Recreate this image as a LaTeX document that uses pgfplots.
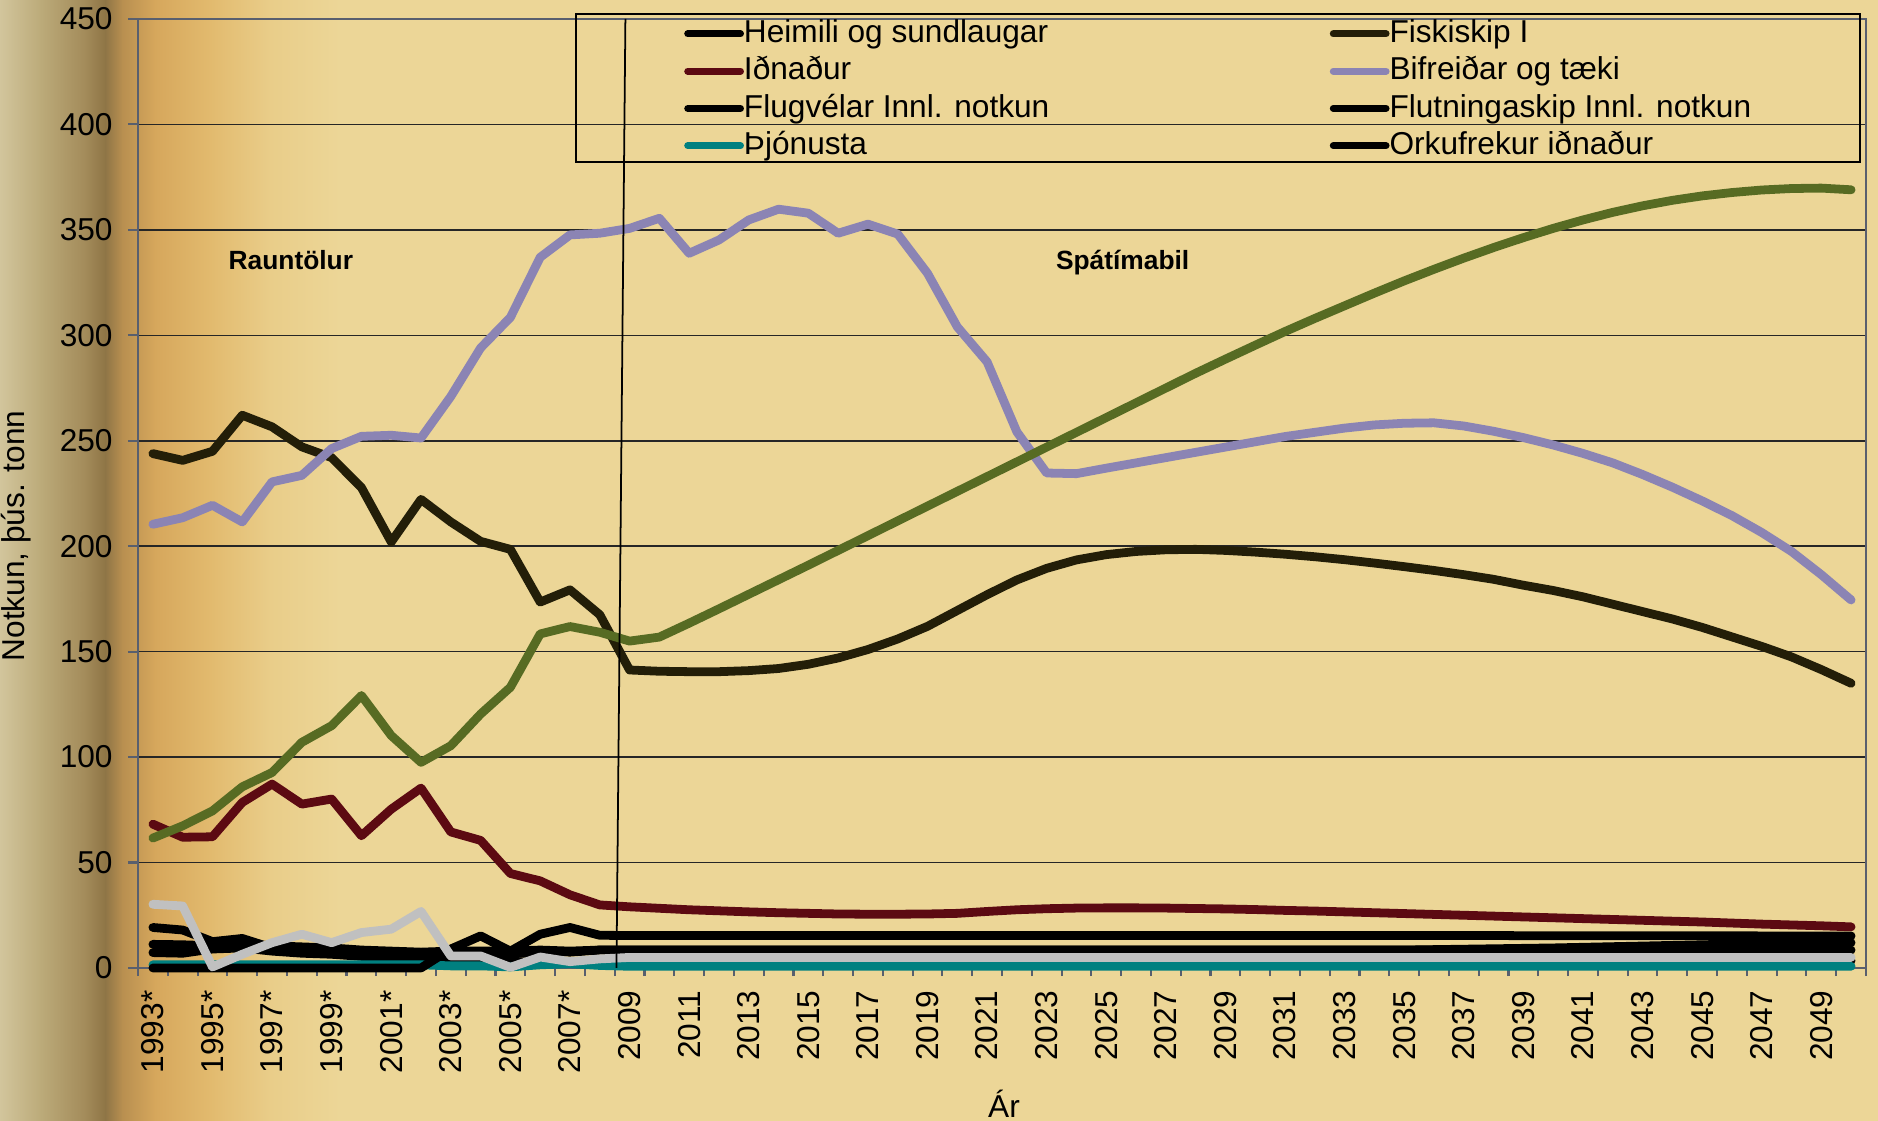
\documentclass[border=0pt]{standalone}
\usepackage{fontspec}
\setmainfont{Liberation Sans}
\usepackage{pgfplots}
\pgfplotsset{compat=1.18}
\usepackage{pgfplotstable}

\definecolor{fisk}{HTML}{231E08}
\definecolor{idn}{HTML}{5C0A12}
\definecolor{bif}{HTML}{8B84B4}
\definecolor{grn}{HTML}{576B23}
\definecolor{gry}{HTML}{C0C0C0}
\definecolor{tea}{HTML}{008080}
\definecolor{axcol}{HTML}{595F6E}
\definecolor{bgmain}{HTML}{ECD697}
\definecolor{bga}{HTML}{D2C59C}
\definecolor{bgb}{HTML}{BCAB7A}
\definecolor{bgc}{HTML}{A38B5A}
\definecolor{bgd}{HTML}{8E7546}
\definecolor{bge}{HTML}{B88F50}
\definecolor{bgf}{HTML}{D6A75C}
\definecolor{bgg}{HTML}{E2BA6E}
\definecolor{bgh}{HTML}{E9CD89}

% notkun, thus. tonn; ka..kd svartar linur
\pgfplotstableread{
yr   fisk  bif   grn   idn  gry  ka   kb   kc  kd   tea
1993 243.9 210.4 61.6  68.2 30.2 19.2 11.2 7.3 0.0  1.5
1994 240.7 213.5 67.4  62.0 29.4 18.0 11.0 7.0 0.0  1.5
1995 245.0 219.4 74.5  62.2 0.5  12.5 10.5 9.0 0.0  1.5
1996 262.1 211.5 85.9  78.5 6.5  14.0 11.5 9.5 0.0  1.5
1997 256.6 230.5 92.7  87.2 12.0 9.5  10.5 8.0 0.0  1.5
1998 247.1 233.6 107.0 77.7 16.0 8.5  10.0 7.0 0.0  1.5
1999 242.0 246.3 114.9 80.1 12.0 8.0  9.5  6.5 0.0  1.5
2000 227.8 252.1 129.2 62.7 16.8 7.0  8.5  5.5 0.0  1.5
2001 202.0 252.6 110.2 75.3 18.4 6.5  8.0  5.0 0.0  1.5
2002 222.2 251.3 97.5  85.3 26.8 6.0  7.5  5.0 0.0  1.5
2003 211.5 271.0 105.4 64.5 5.7  6.5  8.0  4.5 9.0  1.0
2004 202.3 294.0 120.4 60.5 5.7  7.0  8.0  4.0 15.2 1.0
2005 198.5 308.5 133.1 44.8 0.3  6.5  8.0  3.0 8.0  0.5
2006 173.5 337.0 158.4 41.3 5.2  8.0  8.5  3.0 16.0 1.5
2007 179.3 347.6 161.9 34.7 3.0  7.5  8.0  2.5 19.2 2.0
2008 167.5 348.4 159.2 29.9 4.3  8.5  8.5  2.5 15.5 1.2
2009 141.3 350.7 155.0 29.0 5.0  8.5  8.5  2.5 15.4 0.8
2010 140.7 355.5 156.9 28.3 5.0  8.5  8.5  2.5 15.4 0.8
2011 140.5 338.9 163.5 27.6 5.0  8.5  8.5  2.5 15.4 0.8
2012 140.5 345.2 170.3 27.1 5.0  8.5  8.5  2.6 15.4 0.8
2013 141.0 354.7 177.2 26.6 5.0  8.5  8.5  2.6 15.4 0.8
2014 142.0 359.8 184.1 26.2 5.0  8.5  8.5  2.6 15.4 0.8
2015 144.0 357.9 191.0 25.9 5.0  8.5  8.5  2.7 15.4 0.8
2016 147.0 348.4 198.0 25.6 5.0  8.5  8.5  2.7 15.4 0.8
2017 151.0 352.7 205.0 25.5 5.0  8.5  8.5  2.7 15.4 0.8
2018 156.0 348.0 212.0 25.5 5.0  8.5  8.5  2.8 15.4 0.8
2019 162.0 329.4 219.0 25.6 5.0  8.5  8.5  2.8 15.4 0.8
2020 169.5 304.0 226.0 25.9 5.0  8.5  8.5  2.8 15.4 0.8
2021 177.0 287.4 233.0 26.8 5.0  8.5  8.5  2.9 15.4 0.8
2022 184.0 254.2 240.0 27.6 5.0  8.5  8.5  2.9 15.4 0.8
2023 189.5 234.7 247.0 28.1 5.0  8.5  8.5  2.9 15.4 0.8
2024 193.5 234.4 254.0 28.4 5.0  8.5  8.5  3.0 15.4 0.8
2025 196.0 237.0 261.0 28.5 5.0  8.5  8.5  3.0 15.4 0.8
2026 197.5 239.5 268.0 28.5 5.0  8.5  8.5  3.0 15.4 0.8
2027 198.3 242.0 275.0 28.4 5.0  8.5  8.5  3.0 15.4 0.8
2028 198.5 244.5 282.0 28.2 5.0  8.5  8.5  3.1 15.4 0.8
2029 198.0 247.0 288.7 28.0 5.0  8.5  8.5  3.1 15.4 0.8
2030 197.2 249.5 295.3 27.7 5.0  8.5  8.5  3.1 15.4 0.8
2031 196.2 252.0 301.8 27.3 5.0  8.5  8.5  3.1 15.4 0.8
2032 195.0 254.0 308.0 27.0 5.0  8.5  8.5  3.2 15.4 0.8
2033 193.6 256.0 314.0 26.6 5.0  8.5  8.5  3.2 15.4 0.8
2034 192.0 257.5 320.0 26.2 5.0  8.5  8.5  3.2 15.4 0.8
2035 190.3 258.3 325.8 25.8 5.0  8.5  8.5  3.2 15.4 0.8
2036 188.5 258.5 331.3 25.4 5.0  8.7  8.5  3.3 15.4 0.8
2037 186.5 257.0 336.6 25.0 5.0  8.9  8.5  3.3 15.4 0.8
2038 184.3 254.5 341.6 24.6 5.0  9.1  8.5  3.3 15.4 0.8
2039 181.5 251.5 346.3 24.2 5.0  9.3  8.5  3.3 15.3 0.8
2040 179.0 248.0 350.7 23.8 5.0  9.5  8.5  3.4 15.3 0.8
2041 176.0 244.0 354.7 23.4 5.0  9.8  8.5  3.4 15.3 0.8
2042 172.5 239.5 358.3 23.0 5.0  10.1 8.5  3.4 15.3 0.8
2043 169.0 234.0 361.4 22.6 5.0  10.4 8.5  3.4 15.3 0.8
2044 165.5 228.0 364.0 22.2 5.0  10.7 8.5  3.5 15.3 0.8
2045 161.5 221.5 366.1 21.8 5.0  11.0 8.5  3.5 15.3 0.8
2046 157.0 214.5 367.7 21.3 5.0  11.3 8.5  3.5 15.3 0.8
2047 152.5 206.5 368.9 20.8 5.0  11.5 8.5  3.5 15.2 0.8
2048 147.5 197.5 369.6 20.4 5.0  11.7 8.5  3.5 15.2 0.8
2049 141.5 186.5 369.8 20.0 5.0  11.9 8.5  3.5 15.2 0.8
2050 135.0 174.5 369.0 19.5 5.0  12.0 8.5  3.5 15.2 0.8
}\notkun

\begin{document}
\begin{tikzpicture}
% bakgrunnur
\fill[bgmain] (0,0) rectangle (187.8mm,112.1mm);
\shade[left color=bga, right color=bgb] (0,0) rectangle (4.05mm,112.1mm);
\shade[left color=bgb, right color=bgc] (4mm,0) rectangle (8.55mm,112.1mm);
\shade[left color=bgc, right color=bgd] (8.5mm,0) rectangle (10.55mm,112.1mm);
\shade[left color=bgd, right color=bge] (10.5mm,0) rectangle (12.25mm,112.1mm);
\shade[left color=bge, right color=bgf] (12.2mm,0) rectangle (15.55mm,112.1mm);
\shade[left color=bgf, right color=bgg] (15.5mm,0) rectangle (21.05mm,112.1mm);
\shade[left color=bgg, right color=bgh] (21mm,0) rectangle (27.05mm,112.1mm);
\shade[left color=bgh, right color=bgmain] (27mm,0) rectangle (34mm,112.1mm);

\begin{axis}[
  at={(13.8mm,15.3mm)}, anchor=south west,
  width=172.8mm, height=94.9mm, scale only axis,
  xmin=1992.5, xmax=2050.5, ymin=0, ymax=450,
  clip=false,
  axis line style={draw=axcol, line width=0.7pt},
  ytick={0,50,...,450},
  xtick={1993,1995,...,2049},
  xticklabels={1993*,1995*,1997*,1999*,2001*,2003*,2005*,2007*,2009,2011,2013,2015,2017,2019,2021,2023,2025,2027,2029,2031,2033,2035,2037,2039,2041,2043,2045,2047,2049},
  minor xtick={1992.5,1993.5,...,2050.5},
  major x tick style={draw=none},
  tick style={draw=axcol, line width=0.6pt},
  tick align=outside, xtick pos=bottom, ytick pos=left,
  major tick length=2.9pt, minor tick length=2.3pt,
  ymajorgrids, major grid style={black!85, line width=0.45pt},
  /pgf/number format/assume math mode=true,
  ticklabel style={font=\fontsize{9}{10}\selectfont},
  yticklabel style={xshift=-0.8pt},
  xticklabel style={rotate=90, anchor=east},
  every axis plot/.append style={line width=2.5pt, line join=round, line cap=round, no markers},
  legend columns=2,
  legend cell align=left,
  legend image code/.code={\draw[#1, line width=2pt, line cap=round] (0pt,0pt) -- (15pt,0pt);},
  legend style={at={(0.3157,1.0035)}, anchor=north west, draw=none, fill=none,
    font=\fontsize{9}{10}\selectfont, inner sep=0pt, row sep=0.6pt,
    nodes={inner xsep=0pt, inner ysep=0.5pt, text height=7pt, text depth=2pt},
    /tikz/every even column/.append style={column sep=79.8pt}},
]
\addplot[black] table[x=yr, y=kb] {\notkun};
\addlegendentry{Heimili og sundlaugar}
\addplot[fisk] table[x=yr, y=fisk] {\notkun};
\addlegendentry{Fiskiskip I}
\addplot[idn] table[x=yr, y=idn] {\notkun};
\addlegendentry{Iðnaður}
\addplot[bif] table[x=yr, y=bif] {\notkun};
\addlegendentry{Bifreiðar og tæki}
\addplot[black] table[x=yr, y=ka] {\notkun};
\addlegendentry{Flugvélar Innl. notkun}
\addplot[black] table[x=yr, y=kc] {\notkun};
\addlegendentry{Flutningaskip Innl. notkun}
\addplot[tea] table[x=yr, y=tea] {\notkun};
\addlegendentry{Þjónusta}
\addplot[black] table[x=yr, y=kd] {\notkun};
\addlegendentry{Orkufrekur iðnaður}
\addplot[grn, forget plot] table[x=yr, y=grn] {\notkun};
\addplot[gry, forget plot] table[x=yr, y=gry] {\notkun};

\draw[black, line width=0.5pt] (axis cs:2008.86,450) -- (axis cs:2008.56,0);
\draw[black, line width=0.45pt] (rel axis cs:0.2535,0.849) rectangle (rel axis cs:0.9965,1.0053);
\node[font=\bfseries\fontsize{7.5}{9}\selectfont] at (axis cs:1997.63,335.7) {Rauntölur};
\node[font=\bfseries\fontsize{7.5}{9}\selectfont] at (axis cs:2025.55,334.3) {Spátímabil};
\end{axis}

\node[rotate=90, font=\fontsize{9}{10}\selectfont] at (1.6mm,58.5mm) {Notkun, þús. tonn};
\node[font=\fontsize{9}{10}\selectfont] at (100.4mm,1.75mm) {Ár};

\pgfresetboundingbox
\useasboundingbox (0,0) rectangle (187.8mm,112.1mm);
\end{tikzpicture}
\end{document}
